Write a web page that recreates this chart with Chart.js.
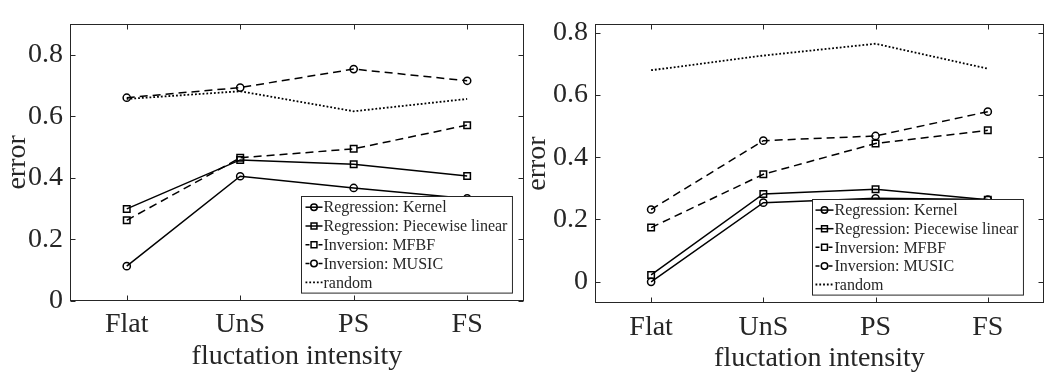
<!DOCTYPE html>
<html>
<head>
<meta charset="utf-8">
<script src="https://cdn.jsdelivr.net/npm/chart.js@4.4.1/dist/chart.umd.min.js"></script>
<style>
html,body{margin:0;padding:0;background:#fff;overflow:hidden;width:1045px;height:375px;}
canvas{position:absolute;top:0;}
#c1{left:0;}
#c2{left:520px;}
</style>
</head>
<body>
<canvas id="c1" width="530" height="375" style="width:530px;height:375px"></canvas>
<canvas id="c2" width="530" height="375" style="width:530px;height:375px"></canvas>
<script>
// ---- data ----
const categories = ['Flat', 'UnS', 'PS', 'FS'];
const seriesNames = ['Regression: Kernel', 'Regression: Piecewise linear', 'Inversion: MFBF', 'Inversion: MUSIC', 'random'];
const yTickLabels = [0, 0.2, 0.4, 0.6, 0.8];

// left panel
const leftKernel    = [0.113, 0.405, 0.367, 0.333];
const leftPiecewise = [0.299, 0.458, 0.444, 0.406];
const leftMFBF      = [0.262, 0.465, 0.494, 0.571];
const leftMUSIC     = [0.660, 0.693, 0.753, 0.715];
const leftRandom    = [0.656, 0.681, 0.616, 0.656];

// right panel
const rightKernel    = [0.000, 0.254, 0.268, 0.264];
const rightPiecewise = [0.022, 0.282, 0.297, 0.263];
const rightMFBF      = [0.174, 0.345, 0.444, 0.486];
const rightMUSIC     = [0.232, 0.453, 0.468, 0.546];
const rightRandom    = [0.679, 0.726, 0.764, 0.684];

// ---- styles ----
const FONT = '"Liberation Serif", "DejaVu Serif", serif';
const AXC = '#262626';
const AXFONT = 28;
const styles = [
  {dash: [], point: 'circle', r: 3.6, w: 1.5},
  {dash: [], point: 'rect', r: 4.6, w: 1.5},
  {dash: [8, 5], point: 'rect', r: 4.6, w: 1.5},
  {dash: [8, 5], point: 'circle', r: 3.6, w: 1.5},
  {dash: [1.8, 2], point: false, r: 0, w: 1.8}
];

function makeDatasets(values) {
  return values.map((vals, i) => ({
    label: seriesNames[i],
    data: vals,
    borderColor: '#000',
    backgroundColor: 'rgba(0,0,0,0)',
    borderWidth: styles[i].w,
    borderDash: styles[i].dash,
    pointStyle: styles[i].point,
    pointRadius: styles[i].r,
    pointHoverRadius: styles[i].r,
    pointBorderWidth: 1.5,
    pointBorderColor: '#000',
    pointBackgroundColor: 'rgba(0,0,0,0)',
    tension: 0,
    fill: false,
    clip: false
  }));
}

const framePlugin = {
  id: 'frame',
  beforeDatasetsDraw(chart) {
    const {ctx, chartArea: a, scales: {x, y}} = chart;
    const L = Math.round(a.left) + 0.5, R = Math.round(a.right) - 0.5;
    const T = Math.round(a.top) + 0.5, B = Math.round(a.bottom) - 0.5;
    ctx.save();
    ctx.strokeStyle = AXC;
    ctx.lineWidth = 1;
    ctx.setLineDash([]);
    ctx.strokeRect(L, T, R - L, B - T);
    ctx.beginPath();
    const tl = 5;
    y.ticks.forEach(t => {
      const py = Math.round(y.getPixelForValue(t.value)) + 0.5;
      ctx.moveTo(L, py); ctx.lineTo(L + tl, py);
      ctx.moveTo(R, py); ctx.lineTo(R - tl, py);
    });
    categories.forEach((c, i) => {
      const px = Math.round(x.getPixelForValue(i)) + 0.5;
      ctx.moveTo(px, B); ctx.lineTo(px, B - tl);
      ctx.moveTo(px, T); ctx.lineTo(px, T + tl);
    });
    ctx.stroke();
    ctx.restore();
  }
};

function drawMarker(ctx, style, r, cx, cy) {
  if (!style) return;
  ctx.beginPath();
  if (style === 'circle') {
    ctx.arc(cx, cy, r, 0, Math.PI * 2);
  } else {
    const s = r * Math.SQRT1_2;
    ctx.rect(cx - s, cy - s, 2 * s, 2 * s);
  }
  ctx.stroke();
}

const boxLegendPlugin = {
  id: 'boxLegend',
  afterDraw(chart, args, opts) {
    const {ctx, chartArea: a} = chart;
    const ds = chart.data.datasets;
    ctx.save();
    ctx.font = opts.fontSize + 'px ' + FONT;
    let maxW = 0;
    ds.forEach(d => { maxW = Math.max(maxW, ctx.measureText(d.label).width); });
    const w = opts.padL + opts.sample + opts.gap + maxW + opts.padR;
    const h = opts.rowH * ds.length + opts.padV * 2;
    const right = a.right - opts.rightInset;
    const bottom = a.bottom - opts.bottomInset;
    const left = Math.round(right - w) + 0.5, top = Math.round(bottom - h) + 0.5;
    ctx.fillStyle = '#fff';
    ctx.fillRect(left, top, w, h);
    ctx.strokeStyle = AXC;
    ctx.lineWidth = 1;
    ctx.strokeRect(left, top, w, h);
    ds.forEach((d, i) => {
      const cy = top + opts.padV + opts.rowH * (i + 0.5);
      const x0 = left + opts.padL, x1 = x0 + opts.sample;
      ctx.strokeStyle = '#000';
      ctx.lineWidth = d.borderWidth;
      ctx.setLineDash(d.borderDash && d.borderDash.length ? (d.pointStyle ? [4, 9] : d.borderDash) : []);
      ctx.beginPath(); ctx.moveTo(x0, cy); ctx.lineTo(x1, cy); ctx.stroke();
      ctx.setLineDash([]);
      ctx.lineWidth = 1.5;
      drawMarker(ctx, d.pointStyle, d.pointRadius * 0.9, (x0 + x1) / 2, cy);
      ctx.fillStyle = AXC;
      ctx.textBaseline = 'middle';
      ctx.textAlign = 'left';
      ctx.fillText(d.label, x1 + opts.gap, cy + 1);
    });
    ctx.restore();
  }
};

function makeChart(id, values, cfg) {
  return new Chart(document.getElementById(id), {
    type: 'line',
    data: {labels: categories, datasets: makeDatasets(values)},
    plugins: [framePlugin, boxLegendPlugin],
    options: {
      responsive: false,
      animation: false,
      devicePixelRatio: 1,
      layout: {padding: {top: cfg.padTop, right: cfg.padRight, left: 0, bottom: 0}},
      plugins: {
        legend: {display: false},
        tooltip: {enabled: false},
        boxLegend: cfg.legend
      },
      scales: {
        x: {
          type: 'category',
          offset: true,
          grid: {display: false, drawTicks: false, tickLength: 0},
          border: {display: false},
          ticks: {color: AXC, font: {family: FONT, size: AXFONT}, padding: cfg.xPad, maxRotation: 0},
          title: {display: true, text: 'fluctation intensity', color: AXC, font: {family: FONT, size: AXFONT}, padding: {top: 0, bottom: cfg.xTitlePad}},
          afterFit: s => { s.height = cfg.xHeight; }
        },
        y: {
          min: cfg.yMin,
          max: cfg.yMax,
          grid: {display: false, drawTicks: false, tickLength: 0},
          border: {display: false},
          afterBuildTicks: s => { s.ticks = yTickLabels.map(v => ({value: v})); },
          ticks: {
            color: AXC, font: {family: FONT, size: AXFONT}, padding: 7,
            callback: v => (v === 0 ? '0' : Number(v).toFixed(1))
          },
          title: {display: true, text: 'error', color: AXC, font: {family: FONT, size: AXFONT}, padding: {top: cfg.yTitlePad, bottom: 0}},
          afterFit: s => { s.width = cfg.yWidth; }
        }
      }
    }
  });
}

makeChart('c1', [leftKernel, leftPiecewise, leftMFBF, leftMUSIC, leftRandom], {
  padTop: 1, padRight: 6, yWidth: 70, xHeight: 74, yMin: 0, yMax: 0.9,
  xPad: 7, xTitlePad: 2, yTitlePad: 0.5,
  legend: {fontSize: 16, rowH: 18.8, padV: 1.3, padL: 4, sample: 17, gap: 1, padR: 5, rightInset: 12, bottomInset: 8}
});
makeChart('c2', [rightKernel, rightPiecewise, rightMFBF, rightMUSIC, rightRandom], {
  padTop: 1.5, padRight: 2.6, yWidth: 75, xHeight: 71.7, yMin: -0.069, yMax: 0.828,
  xPad: 7.5, xTitlePad: 0, yTitlePad: 0.5,
  legend: {fontSize: 16, rowH: 18.6, padV: 1.3, padL: 3, sample: 18, gap: 1, padR: 5, rightInset: 21.4, bottomInset: 8.3}
});
</script>
</body>
</html>
